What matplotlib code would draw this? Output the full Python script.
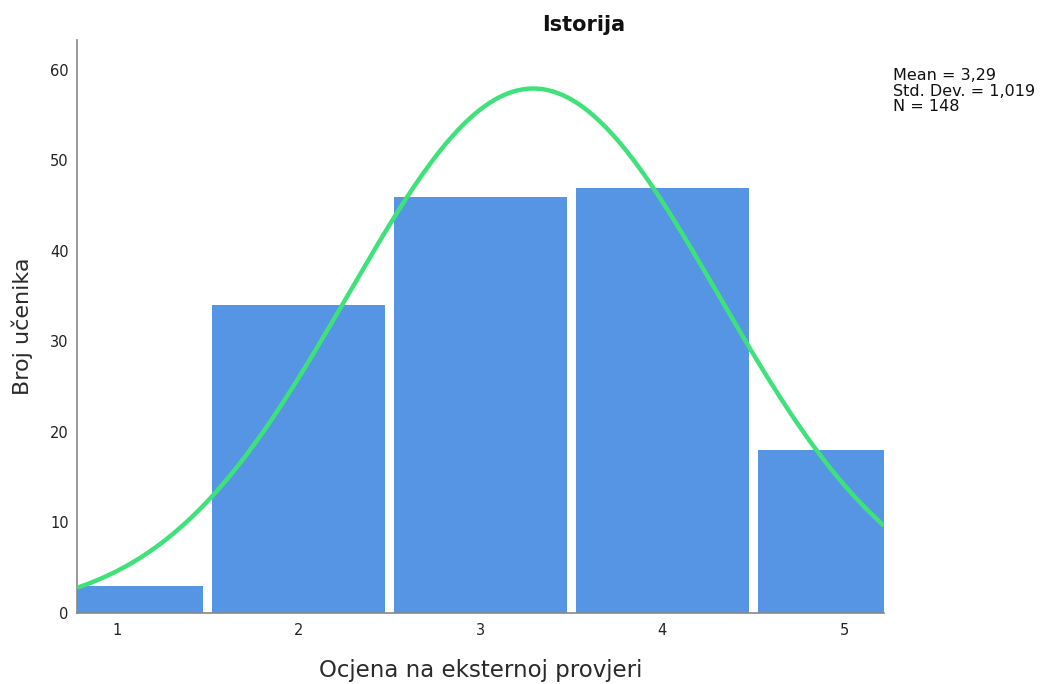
import numpy as np
import matplotlib
matplotlib.use("Agg")
import matplotlib.pyplot as plt

grades = [1, 2, 3, 4, 5]
counts = [3, 34, 46, 47, 18]
mean = 3.29
std_dev = 1.019
n_total = 148
yticks = [0, 10, 20, 30, 40, 50, 60]

plt.rcParams['font.family'] = ['DejaVu Sans']

fig = plt.figure(figsize=(10.43, 6.84), dpi=100)
ax = fig.add_axes([77/1043, 1-613/684, (884-77)/1043, (613-40)/684])

ax.bar(grades, counts, width=0.95, color='#5595E3', edgecolor='none', zorder=2)

xs = np.linspace(0.78, 5.22, 300)
ys = n_total * 1.0 / (std_dev * np.sqrt(2*np.pi)) * np.exp(-0.5*((xs-mean)/std_dev)**2)
ax.plot(xs, ys, color='#3FE27A', lw=3.2, zorder=3, solid_capstyle='butt')

ax.set_xlim(0.78, 5.22)
ax.set_ylim(0, 63.3)
ax.set_xticks(grades)
ax.set_yticks(yticks)
ax.tick_params(axis='both', length=0, labelsize=10.5, colors='#222222')
ax.tick_params(axis='x', pad=7)
ax.tick_params(axis='y', pad=6)
for s in ['top', 'right']:
    ax.spines[s].set_visible(False)
for s in ['left', 'bottom']:
    ax.spines[s].set_color('#888888')
    ax.spines[s].set_linewidth(1.2)

ax.set_xlabel('Ocjena na eksternoj provjeri', fontsize=16.5, color='#2a2a2a', labelpad=15)
ax.set_ylabel('Broj učenika', fontsize=16, color='#2a2a2a', labelpad=12)
fig.text(584/1043, 1-25/684, 'Istorija', ha='center', va='center', fontsize=15, fontweight='bold',
         color='#111111')
fig.text(893/1043, 1-68/684, 'Mean = 3,29\nStd. Dev. = 1,019\nN = 148', ha='left', va='top',
         fontsize=11.5, linespacing=1.05, color='#111111')

fig.savefig('out.png', dpi=100)
